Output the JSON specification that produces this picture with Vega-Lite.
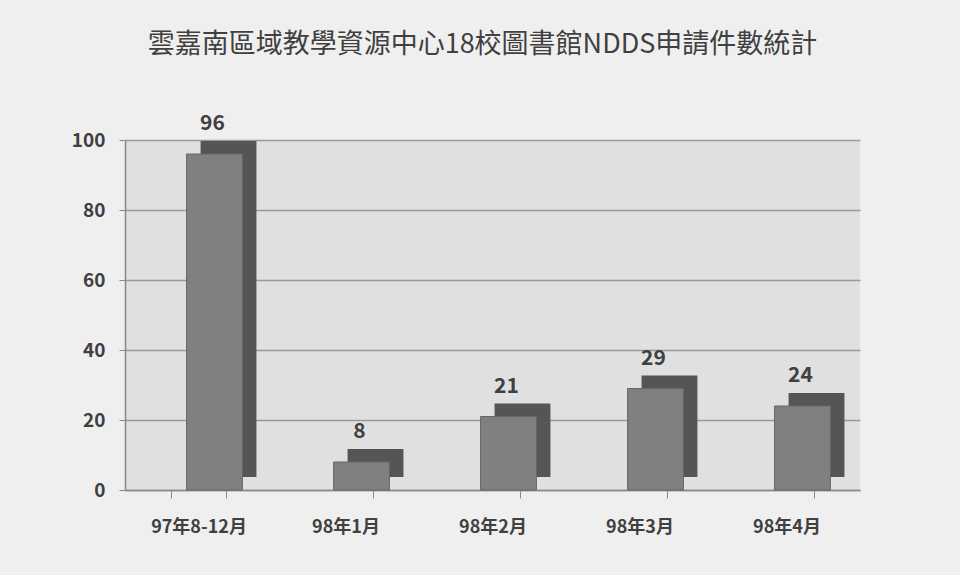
{
  "$schema": "https://vega.github.io/schema/vega-lite/v6.json",
  "autosize": "none",
  "width": 735,
  "height": 350,
  "padding": {"left": 125, "top": 140, "right": 100, "bottom": 85},
  "background": "#efefef",
  "view": {"fill": "#e0e0e0", "stroke": null},
  "title": {
    "text": "雲嘉南區域教學資源中心18校圖書館NDDS申請件數統計",
    "font": "Noto Sans CJK TC",
    "fontSize": 27,
    "fontWeight": "normal",
    "color": "#404040",
    "anchor": "middle",
    "offset": 54,
    "dx": -10
  },
  "data": {
    "values": [
      {"period": "97年8-12月", "count": 96},
      {"period": "98年1月", "count": 8},
      {"period": "98年2月", "count": 21},
      {"period": "98年3月", "count": 29},
      {"period": "98年4月", "count": 24}
    ]
  },
  "encoding": {
    "x": {
      "field": "period",
      "type": "nominal",
      "sort": null,
      "scale": {"paddingInner": 0.62, "paddingOuter": 0.31},
      "axis": {
        "title": null,
        "labelAngle": 0,
        "labelFont": "Noto Sans CJK TC",
        "labelFontSize": 18,
        "labelFontWeight": "bold",
        "labelColor": "#404040",
        "labelPadding": 20,
        "tickBand": "extent",
        "tickSize": 8,
        "tickColor": "#888888",
        "domainColor": "#888888",
        "domainWidth": 1.5
      }
    },
    "y": {
      "field": "count",
      "type": "quantitative",
      "scale": {"domain": [0, 100]},
      "axis": {
        "title": null,
        "values": [0, 20, 40, 60, 80, 100],
        "labelFont": "Noto Sans CJK TC",
        "labelFontSize": 19,
        "labelFontWeight": "bold",
        "labelColor": "#404040",
        "labelPadding": 14,
        "tickSize": 6,
        "tickColor": "#888888",
        "domainColor": "#888888",
        "domainWidth": 1.5,
        "gridColor": "#999999",
        "gridWidth": 1.5
      }
    }
  },
  "layer": [
    {
      "mark": {"type": "bar", "color": "#555555", "xOffset": 30, "yOffset": -13}
    },
    {
      "mark": {"type": "bar", "color": "#808080", "stroke": "#666666", "strokeWidth": 1, "xOffset": 16}
    },
    {
      "mark": {
        "type": "text",
        "baseline": "bottom",
        "dy": -20,
        "dx": 14,
        "font": "Noto Sans CJK TC",
        "fontSize": 21,
        "fontWeight": "bold",
        "color": "#404040"
      },
      "encoding": {"text": {"field": "count", "type": "quantitative"}}
    }
  ]
}
